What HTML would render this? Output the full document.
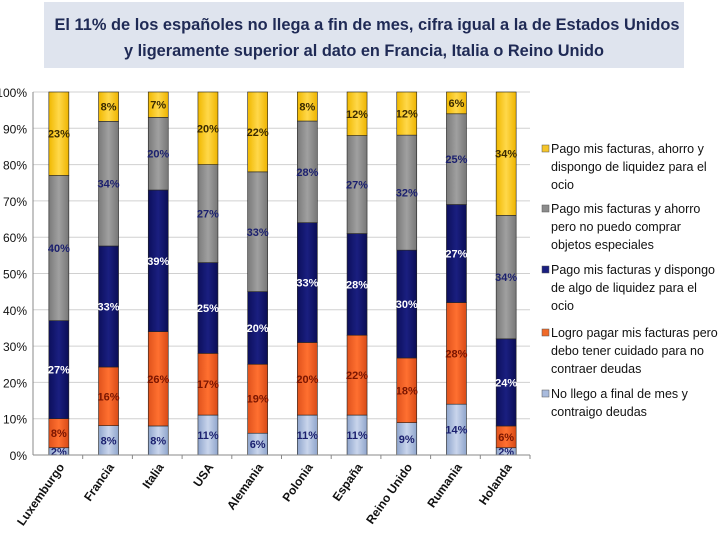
<!DOCTYPE html>
<html><head><meta charset="utf-8"><style>
body{margin:0;background:#fff;width:720px;height:540px;overflow:hidden;font-family:"Liberation Sans",sans-serif}
</style></head><body>
<svg id="c" width="720" height="540" style="position:absolute;left:0;top:0">
<defs>
<linearGradient id="g0" x1="0" x2="1"><stop offset="0" stop-color="#8fa5cc"/><stop offset=".5" stop-color="#c9d5ec"/><stop offset="1" stop-color="#8fa5cc"/></linearGradient>
<linearGradient id="g1" x1="0" x2="1"><stop offset="0" stop-color="#e0521c"/><stop offset=".5" stop-color="#ff7030"/><stop offset="1" stop-color="#d84a16"/></linearGradient>
<linearGradient id="g2" x1="0" x2="1"><stop offset="0" stop-color="#0c0f5c"/><stop offset=".5" stop-color="#1a1f80"/><stop offset="1" stop-color="#0a0d55"/></linearGradient>
<linearGradient id="g3" x1="0" x2="1"><stop offset="0" stop-color="#7a7a7a"/><stop offset=".5" stop-color="#a0a0a0"/><stop offset="1" stop-color="#777"/></linearGradient>
<linearGradient id="g4" x1="0" x2="1"><stop offset="0" stop-color="#f0b800"/><stop offset=".5" stop-color="#ffd84a"/><stop offset="1" stop-color="#eeb400"/></linearGradient>
</defs>
<rect x="44" y="2" width="640" height="66" fill="#dfe4ee"/>
<text x="367" y="30" text-anchor="middle" font-size="16.3" font-weight="bold" fill="#1f2a55" textLength="625" lengthAdjust="spacingAndGlyphs">El 11% de los españoles no llega a fin de mes, cifra igual a la de Estados Unidos</text>
<text x="364" y="56" text-anchor="middle" font-size="16.3" font-weight="bold" fill="#1f2a55" textLength="480" lengthAdjust="spacingAndGlyphs">y ligeramente superior al dato en Francia, Italia o Reino Unido</text>
<g id="grid"></g><g id="bars"></g><g id="axes"></g><g id="legend"></g>
</svg>
<script>
const categories=["Luxemburgo","Francia","Italia","USA","Alemania","Polonia","España","Reino Unido","Rumania","Holanda"];
const noLlego=[2,8,8,11,6,11,11,9,14,2];
const cuidado=[8,16,26,17,19,20,22,18,28,6];
const algoLiquidez=[27,33,39,25,20,33,28,30,27,24];
const ahorro=[40,34,20,27,33,28,27,32,25,34];
const ocio=[23,8,7,20,22,8,12,12,6,34];
const yTicks=[0,10,20,30,40,50,60,70,80,90,100];
const seriesNames=["Pago mis facturas, ahorro y|dispongo de liquidez para el|ocio","Pago mis facturas y ahorro|pero no puedo comprar|objetos especiales","Pago mis facturas y dispongo|de algo de liquidez para el|ocio","Logro pagar mis facturas pero|debo tener cuidado para no|contraer deudas","No llego a final de mes y|contraigo deudas"];
const NS="http://www.w3.org/2000/svg";
const X0=33,X1=530,Y0=455,Y1=92;
const step=(X1-X0)/categories.length;
const y=v=>Y0-(v/100)*(Y0-Y1);
const xc=i=>X0+step*(i+0.5)+1;
function mk(t,a,p){const e=document.createElementNS(NS,t);for(const k in a)e.setAttribute(k,a[k]);p.appendChild(e);return e;}
const grid=document.getElementById('grid'),axes=document.getElementById('axes'),bars=document.getElementById('bars'),leg=document.getElementById('legend');
yTicks.forEach(t=>{
 const l=mk('line',{x1:X0,x2:X1,y1:y(t),y2:y(t),stroke:'#d0d0d0'},grid);
 
 
 const tx=mk('text',{x:27,y:y(t)+5,'text-anchor':'end','font-size':12,fill:'#111'},axes);
 tx.textContent=t+'%';
 
 
});
mk('line',{x1:X0,x2:X0,y1:Y1,y2:Y0,stroke:'#888'},axes);
mk('line',{x1:X0,x2:X1,y1:Y0,y2:Y0,stroke:'#888'},axes);
const series=[noLlego,cuidado,algoLiquidez,ahorro,ocio];
const fills=['url(#g0)','url(#g1)','url(#g2)','url(#g3)','url(#g4)'];
const tcol=['#1a1f6e','#7a1500','#ffffff','#1a1f6e','#3a2a00'];
categories.forEach((c,i)=>{
 const tot=series.reduce((s,a)=>s+a[i],0);
 let acc=0;
 series.forEach((s,k)=>{
  const v=s[i]*100/tot;
  const r=mk('rect',{x:xc(i)-10,y:y(acc+v),width:20,height:y(acc)-y(acc+v),fill:fills[k],stroke:'#222','stroke-width':0.6},bars);
  
  
  const t=mk('text',{x:xc(i),y:(y(acc)+y(acc+v))/2+4,'text-anchor':'middle','font-size':11,'font-weight':'bold',fill:tcol[k]},bars);
  t.textContent=s[i]+'%';
  
  
  acc+=v;
 });
 const lx=xc(i)+6, ly=Y0+12;
 const t=mk('text',{x:lx,y:ly,'text-anchor':'end','font-size':12,'font-weight':'bold',fill:'#111',transform:`rotate(-55 ${lx} ${ly})`},axes);
 t.textContent=c;
 
 
 mk('line',{x1:X0+step*(i+1),x2:X0+step*(i+1),y1:Y0,y2:Y0+4,stroke:'#888'},axes);
});
const legY=[153,213,274,337,398];
const legC=['#f5c52a','#8c8c8c','#1a1f80','#f06a28','#a9bbdd'];
seriesNames.forEach((n,k)=>{
 const g=mk('g',{},leg);
 
 
 mk('rect',{x:542,y:legY[k]-8,width:7,height:7,fill:legC[k],stroke:'#555','stroke-width':0.5},g);
 n.split('|').forEach((ln,j)=>{
  const t=mk('text',{x:551,y:legY[k]+j*18,'font-size':12.5,fill:'#111'},g);
  t.textContent=ln;
 });
});
</script>
</body></html>
